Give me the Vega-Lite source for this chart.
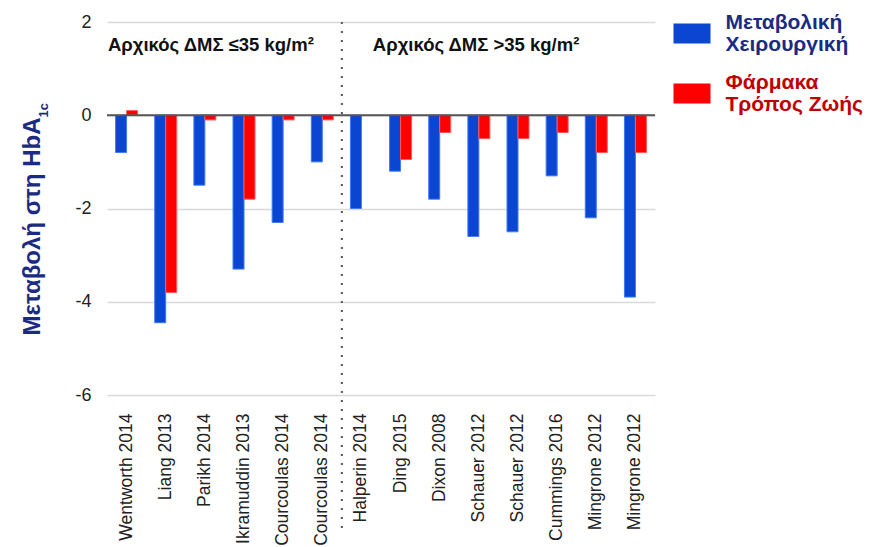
{
  "$schema": "https://vega.github.io/schema/vega-lite/v6.json",
  "width": 548,
  "height": 373,
  "autosize": "none",
  "padding": {"left": 107, "top": 22, "right": 227, "bottom": 152},
  "background": "white",
  "config": {
    "font": "Liberation Sans",
    "view": {"stroke": null}
  },
  "title": {
    "text": "1c",
    "orient": "left",
    "anchor": "end",
    "frame": "group",
    "fontSize": 13,
    "fontWeight": "bold",
    "color": "#1b2b84",
    "offset": -30,
    "dx": -81
  },
  "datasets": {
    "hba1c": [
      {"k": "Wentworth 2014", "g": "Μεταβολική Χειρουργική", "v": -0.8},
      {"k": "Wentworth 2014", "g": "Φάρμακα Τρόπος Ζωής", "v": 0.1},
      {"k": "Liang 2013", "g": "Μεταβολική Χειρουργική", "v": -4.45},
      {"k": "Liang 2013", "g": "Φάρμακα Τρόπος Ζωής", "v": -3.8},
      {"k": "Parikh 2014", "g": "Μεταβολική Χειρουργική", "v": -1.5},
      {"k": "Parikh 2014", "g": "Φάρμακα Τρόπος Ζωής", "v": -0.1},
      {"k": "Ikramuddin 2013", "g": "Μεταβολική Χειρουργική", "v": -3.3},
      {"k": "Ikramuddin 2013", "g": "Φάρμακα Τρόπος Ζωής", "v": -1.8},
      {"k": "Courcoulas 2014|1", "g": "Μεταβολική Χειρουργική", "v": -2.3},
      {"k": "Courcoulas 2014|1", "g": "Φάρμακα Τρόπος Ζωής", "v": -0.1},
      {"k": "Courcoulas 2014|2", "g": "Μεταβολική Χειρουργική", "v": -1.0},
      {"k": "Courcoulas 2014|2", "g": "Φάρμακα Τρόπος Ζωής", "v": -0.1},
      {"k": "Halperin 2014", "g": "Μεταβολική Χειρουργική", "v": -2.0},
      {"k": "Ding 2015", "g": "Μεταβολική Χειρουργική", "v": -1.2},
      {"k": "Ding 2015", "g": "Φάρμακα Τρόπος Ζωής", "v": -0.95},
      {"k": "Dixon 2008", "g": "Μεταβολική Χειρουργική", "v": -1.8},
      {"k": "Dixon 2008", "g": "Φάρμακα Τρόπος Ζωής", "v": -0.37},
      {"k": "Schauer 2012|1", "g": "Μεταβολική Χειρουργική", "v": -2.6},
      {"k": "Schauer 2012|1", "g": "Φάρμακα Τρόπος Ζωής", "v": -0.5},
      {"k": "Schauer 2012|2", "g": "Μεταβολική Χειρουργική", "v": -2.5},
      {"k": "Schauer 2012|2", "g": "Φάρμακα Τρόπος Ζωής", "v": -0.5},
      {"k": "Cummings 2016", "g": "Μεταβολική Χειρουργική", "v": -1.3},
      {"k": "Cummings 2016", "g": "Φάρμακα Τρόπος Ζωής", "v": -0.37},
      {"k": "Mingrone 2012|1", "g": "Μεταβολική Χειρουργική", "v": -2.2},
      {"k": "Mingrone 2012|1", "g": "Φάρμακα Τρόπος Ζωής", "v": -0.8},
      {"k": "Mingrone 2012|2", "g": "Μεταβολική Χειρουργική", "v": -3.9},
      {"k": "Mingrone 2012|2", "g": "Φάρμακα Τρόπος Ζωής", "v": -0.8}
    ]
  },
  "layer": [
    {
      "data": {"name": "hba1c"},
      "mark": {"type": "bar", "strokeWidth": 1},
      "encoding": {
        "x": {
          "field": "k",
          "type": "nominal",
          "title": null,
          "scale": {
            "domain": ["Wentworth 2014", "Liang 2013", "Parikh 2014", "Ikramuddin 2013", "Courcoulas 2014|1", "Courcoulas 2014|2", "Halperin 2014", "Ding 2015", "Dixon 2008", "Schauer 2012|1", "Schauer 2012|2", "Cummings 2016", "Mingrone 2012|1", "Mingrone 2012|2"],
            "paddingInner": 0,
            "paddingOuter": 0
          },
          "axis": {
            "labelAngle": -90,
            "labelAlign": "right",
            "labelBaseline": "middle",
            "labelFontSize": 17.5,
            "labelColor": "#222222",
            "labelPadding": 18,
            "labelLimit": 200,
            "ticks": false,
            "domain": false,
            "grid": false,
            "labelExpr": "split(datum.label, '|')[0]"
          }
        },
        "xOffset": {
          "field": "g",
          "type": "nominal",
          "scale": {
            "domain": ["Μεταβολική Χειρουργική", "Φάρμακα Τρόπος Ζωής"],
            "paddingInner": 0,
            "paddingOuter": 0.78
          }
        },
        "y": {
          "field": "v",
          "type": "quantitative",
          "scale": {"domain": [-6, 2], "nice": false},
          "axis": {
            "values": [-6, -4, -2, 0, 2],
            "labelExpr": "'' + datum.value",
            "labelFontSize": 18,
            "labelColor": "#222222",
            "labelPadding": 16,
            "ticks": false,
            "domain": false,
            "gridColor": "#d9d9d9",
            "gridWidth": 1.5,
            "title": "Μεταβολή στη HbA",
            "titleFontSize": 24,
            "titleFontWeight": "bold",
            "titleColor": "#1b2b84",
            "titlePadding": 30,
            "titleY": 204
          }
        },
        "color": {
          "field": "g",
          "type": "nominal",
          "scale": {
            "domain": ["Μεταβολική Χειρουργική", "Φάρμακα Τρόπος Ζωής"],
            "range": ["#0a46d2", "#ff0000"]
          },
          "legend": {
            "orient": "none",
            "legendX": 574.5,
            "legendY": 1,
            "title": null,
            "symbolType": "M-1.85,-1H1.85V1H-1.85Z",
            "symbolSize": 400,
            "symbolStrokeWidth": 0,
            "symbolOpacity": 1,
            "labelFont": "Liberation Sans",
            "labelFontSize": 21,
            "labelFontWeight": "bold",
            "labelOffset": 23,
            "labelLimit": 300,
            "rowPadding": 16,
            "labelExpr": "datum.value === 'Φάρμακα Τρόπος Ζωής' ? ['Φάρμακα', 'Τρόπος Ζωής'] : ['Μεταβολική', 'Χειρουργική']",
            "encode": {
              "labels": {
                "update": {
                  "lineHeight": {"value": 22},
                  "dy": {"value": -11},
                  "fill": {"signal": "datum.value === 'Μεταβολική Χειρουργική' ? '#1b2b84' : '#c00000'"}
                }
              }
            }
          }
        },
        "stroke": {
          "field": "g",
          "type": "nominal",
          "scale": {
            "domain": ["Μεταβολική Χειρουργική", "Φάρμακα Τρόπος Ζωής"],
            "range": ["#3d7cf0", "#ff5a5a"]
          },
          "legend": null
        }
      }
    },
    {
      "data": {"values": [{}]},
      "mark": {"type": "rule", "color": "#555555", "strokeWidth": 2},
      "encoding": {"y": {"datum": 0}}
    },
    {
      "data": {"values": [{}]},
      "mark": {"type": "rule", "color": "#555555", "strokeWidth": 2, "strokeDash": [2, 7]},
      "encoding": {
        "x": {"datum": "Halperin 2014", "bandPosition": 0},
        "y": {"datum": 2},
        "y2": {"datum": -9}
      }
    },
    {
      "data": {"values": [{}]},
      "mark": {"type": "text", "align": "left", "baseline": "alphabetic", "fontSize": 18.5, "fontWeight": "bold", "color": "#111111", "dx": 1},
      "encoding": {
        "x": {"datum": "Wentworth 2014", "bandPosition": 0},
        "y": {"datum": 1.37},
        "text": {"value": "Αρχικός ΔΜΣ ≤35 kg/m²"}
      }
    },
    {
      "data": {"values": [{}]},
      "mark": {"type": "text", "align": "left", "baseline": "alphabetic", "fontSize": 18.5, "fontWeight": "bold", "color": "#111111", "dx": 31},
      "encoding": {
        "x": {"datum": "Halperin 2014", "bandPosition": 0},
        "y": {"datum": 1.37},
        "text": {"value": "Αρχικός ΔΜΣ >35 kg/m²"}
      }
    }
  ]
}
